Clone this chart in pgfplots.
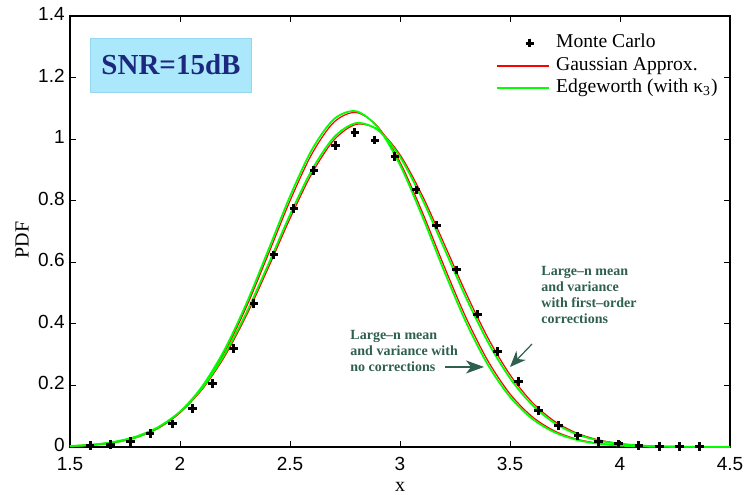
\documentclass[border=0pt]{standalone}
\usepackage{fontspec}
\setmainfont{Liberation Serif}
\newfontfamily\arialfont{Liberation Sans}
\usepackage{pgfplots}
\pgfplotsset{compat=1.18}
\usepackage{pgfplotstable}
\usetikzlibrary{arrows.meta}
\definecolor{annot}{RGB}{47,95,79}
\definecolor{boxfill}{RGB}{172,232,252}
\definecolor{boxedge}{RGB}{150,215,240}
\definecolor{snrtext}{RGB}{28,40,125}
\definecolor{gaussred}{RGB}{255,0,0}
\definecolor{edgegreen}{RGB}{0,255,0}

% x, Gaussian (no corr.), Edgeworth (no corr.), Gaussian (1st-order), Edgeworth (1st-order)
\pgfplotstableread{
x    gA       eA       gB       eB
1.5  0.00249  0.00253  0.00327  0.00332
1.6  0.00616  0.00628  0.00756  0.00769
1.7  0.01418  0.01449  0.01638  0.0167
1.8  0.0303   0.03104  0.03321  0.03393
1.9  0.0602   0.06178  0.06304  0.06449
2.0  0.1112   0.1142   0.1121   0.1147
2.1  0.1910   0.1961   0.1865   0.1909
2.2  0.3048   0.3127   0.2907   0.2974
2.3  0.4522   0.4631   0.4243   0.4334
2.4  0.6237   0.6372   0.5799   0.5910
2.5  0.7995   0.8142   0.7420   0.7542
2.6  0.9527   0.9663   0.8890   0.9005
2.7  1.0553   1.0652   0.9974   1.0062
2.8  1.0866   1.0907   1.0478   1.0520
2.9  1.0400   1.0373   1.0308   1.0292
3.0  0.9253   0.9163   0.9494   0.9422
3.1  0.7652   0.7517   0.8189   0.8070
3.2  0.5883   0.5729   0.6613   0.6469
3.3  0.4204   0.4055   0.5001   0.4852
3.4  0.2793   0.2666   0.3541   0.3405
3.5  0.1724   0.1628   0.2348   0.2236
3.6  0.0990   0.0923   0.1458   0.1374
3.7  0.0528   0.0486   0.0847   0.0790
3.8  0.0262   0.0238   0.0461   0.0425
3.9  0.0121   0.0108   0.0235   0.0214
4.0  0.00518  0.00457  0.0112   0.0101
4.1  0.00206  0.00179  0.00502  0.00445
4.2  0.00076  0.00065  0.0021   0.00183
4.3  0.00026  0.0002   0.00082  0.0007
4.4  0.00008  0.00006  0.0003   0.00025
4.5  0.00002  0.00002  0.0001   0.00008
}\curves

\pgfplotstableread{
x      y
1.591  0.005
1.683  0.009
1.776  0.019
1.864  0.045
1.967  0.075
2.058  0.126
2.149  0.207
2.242  0.320
2.336  0.467
2.427  0.624
2.518  0.775
2.609  0.897
2.705  0.979
2.795  1.021
2.886  0.997
2.977  0.943
3.073  0.835
3.167  0.721
3.258  0.575
3.351  0.432
3.444  0.310
3.538  0.212
3.629  0.118
3.720  0.071
3.809  0.036
3.901  0.019
3.993  0.010
4.086  0.004
4.178  0.002
4.271  0.001
4.363  0.0005
}\mc

\begin{document}
\begin{tikzpicture}
\begin{axis}[
  scale only axis, width=330pt, height=215.5pt,
  xmin=1.5, xmax=4.5, ymin=0, ymax=1.4,
  xtick={1.5,2,2.5,3,3.5,4,4.5},
  ytick={0,0.2,0.4,0.6,0.8,1,1.2,1.4},
  xticklabels={1.5,2,2.5,3,3.5,4,4.5},
  yticklabels={0,0.2,0.4,0.6,0.8,1,1.2,1.4},
  tick align=inside, major tick length=3pt,
  axis line style={line width=0.6pt},
  every tick/.style={black, line width=0.5pt},
  tick label style={font=\arialfont\fontsize{9.5}{11}\selectfont},
  /pgf/number format/assume math mode=true,
  yticklabel style={inner sep=2.5pt, yshift=1pt},
  xticklabel style={inner sep=2.5pt, yshift=-2.5pt},
  label style={font=\fontsize{11}{13}\selectfont},
  xlabel={x}, ylabel={PDF},
  every axis x label/.style={at={(axis description cs:0.5,-0.104)}, anchor=base},
  every axis y label/.style={at={(axis description cs:-0.0727,0.48)}, anchor=center, rotate=90},
  legend cell align=left,
  legend image code/.code={\draw[#1] (0pt,0pt) -- (26pt,0pt);},
  legend style={at={(axis cs:3.436,1.349)}, anchor=north west, draw=none, fill=none,
    inner sep=0pt, outer sep=0pt, font=\fontsize{9.8}{11}\selectfont,
    nodes={inner sep=0.9pt, text height=7pt, text depth=2.5pt},
    column sep=2.2pt, row sep=0pt},
]
\addlegendimage{legend image code/.code={\draw[black, line width=1.5pt] plot[mark=+, mark size=2.2pt] coordinates {(16.5pt,0pt)};}}
\addlegendentry{Monte Carlo}
\addlegendimage{color=gaussred, line width=1pt}
\addlegendentry{Gaussian Approx.}
\addlegendimage{color=edgegreen, line width=1pt}
\addlegendentry{Edgeworth (with κ\textsubscript{3})}

\addplot[gaussred, line width=0.6pt, smooth, forget plot] table[x=x, y=gA] {\curves};
\addplot[edgegreen, line width=0.9pt, smooth, forget plot] table[x=x, y=eA] {\curves};
\addplot[gaussred, line width=0.6pt, smooth, forget plot] table[x=x, y=gB] {\curves};
\addplot[edgegreen, line width=0.9pt, smooth, forget plot] table[x=x, y=eB] {\curves};

\addplot[only marks, mark=+, mark size=2.2pt, mark options={line width=1.5pt, black}, forget plot]
  table[x=x, y=y] {\mc};

\node[draw=boxedge, fill=boxfill, line width=0.4pt, minimum width=80.5pt, minimum height=27pt,
  font=\bfseries\fontsize{14.5}{16}\selectfont, text=snrtext] at (axis cs:1.959,1.2407) {SNR=15dB};

\node[anchor=west, align=left, inner sep=0pt, font=\bfseries\fontsize{7}{8}\selectfont, text=annot]
  at (axis cs:2.773,0.312) {Large\textendash n mean\\and variance with\\no corrections};
\node[anchor=west, align=left, inner sep=0pt, font=\bfseries\fontsize{7}{8}\selectfont, text=annot]
  at (axis cs:3.641,0.494) {Large\textendash n mean\\and variance\\with first\textendash order\\corrections};

\draw[annot, line width=0.6pt, -{Stealth[length=9pt, width=6.5pt, inset=2.5pt]}]
  (axis cs:3.205,0.260) -- (axis cs:3.382,0.260);
\draw[annot, line width=0.6pt, -{Stealth[length=8pt, width=6.5pt, inset=2.5pt]}]
  (axis cs:3.600,0.3345) -- (axis cs:3.5,0.260);

\coordinate (bl) at (rel axis cs:0,0);
\coordinate (tr) at (rel axis cs:1,1);
\end{axis}
\pgfresetboundingbox
\path ([shift={(-35pt,-23.5pt)}]bl) rectangle ([shift={(7pt,8pt)}]tr);
\end{tikzpicture}
\end{document}
